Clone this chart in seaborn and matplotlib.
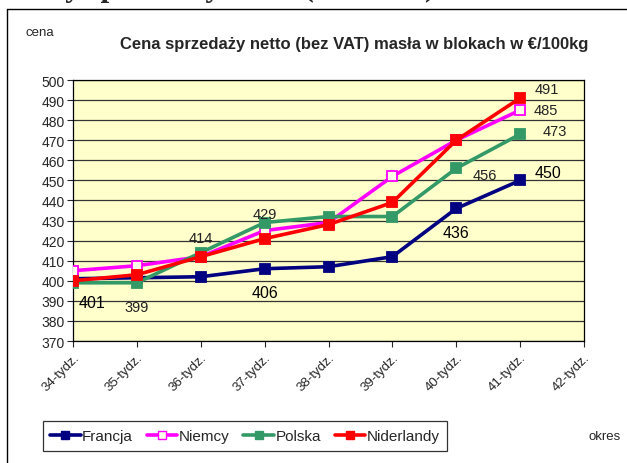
import numpy as np
import pandas as pd
import matplotlib
matplotlib.use("Agg")
import matplotlib.pyplot as plt
from matplotlib.lines import Line2D
import seaborn as sns

# data
weeks = ["34-tydz.", "35-tydz.", "36-tydz.", "37-tydz.", "38-tydz.",
         "39-tydz.", "40-tydz.", "41-tydz.", "42-tydz."]
francja = [401, 401.5, 402, 406, 407, 412, 436, 450]
niemcy = [405, 407.5, 412, 425, 429, 452, 470, 485]
polska = [399, 399, 414, 429, 432, 432, 456, 473]
niderlandy = [400, 403, 412, 421, 428, 439, 470, 491]

series = {"Francja": francja, "Niemcy": niemcy, "Polska": polska, "Niderlandy": niderlandy}
colors = {"Francja": "#000080", "Niemcy": "#FF00FF", "Polska": "#339966", "Niderlandy": "#FF0000"}

rows = []
for name, vals in series.items():
    for i, v in enumerate(vals):
        rows.append({"week": i, "cena": v, "kraj": name})
df = pd.DataFrame(rows)

sns.set_style("white")
plt.rcParams["font.family"] = ["Liberation Sans", "DejaVu Sans"]

fig = plt.figure(figsize=(6.27, 4.64), dpi=100)
ax = fig.add_axes([73 / 627, 1 - 342 / 464, (584 - 73) / 627, (342 - 81) / 464])
ax.set_facecolor("#FFFFCC")

for name in series:
    sub = df[df["kraj"] == name]
    face = "#FFFFE8" if name == "Niemcy" else colors[name]
    sns.lineplot(data=sub, x="week", y="cena", ax=ax, color=colors[name],
                 lw=2.6, marker="s", markersize=7, markerfacecolor=face,
                 markeredgecolor=colors[name], markeredgewidth=1.3, zorder=3)

ax.set_xlim(0, 8)
ax.set_ylim(370, 500)
ax.set_yticks(np.arange(370, 501, 10))
ax.set_xticks(range(len(weeks)))
ax.set_xticklabels(weeks, rotation=45, ha="right", rotation_mode="anchor", fontsize=9.5)
ax.tick_params(axis="y", labelsize=10, length=4, direction="out", left=True, pad=2)
ax.tick_params(axis="x", length=4, direction="out", bottom=True, pad=3)
ax.grid(axis="y", color="#333333", lw=0.9)
ax.set_axisbelow(True)
for s in ax.spines.values():
    s.set_color("black")
    s.set_linewidth(0.9)
ax.set_xlabel("")
ax.set_ylabel("")

# data labels: (series, index, dx px, dy px, size, color)
labels = [
    ("Francja", 0, 19, -24, 11.5, "black"),
    ("Francja", 3, 0, -24, 11.5, "black"),
    ("Francja", 6, 0, -24, 11.5, "black"),
    ("Francja", 7, 28, 8, 11.5, "black"),
    ("Polska", 1, 0, -24, 10.5, "#222222"),
    ("Polska", 2, 0, 15, 10.5, "#222222"),
    ("Polska", 3, 0, 9, 10.5, "#222222"),
    ("Polska", 6, 29, -7, 10.5, "#222222"),
    ("Polska", 7, 35, 3, 10.5, "#222222"),
    ("Niemcy", 7, 26, 0, 10.5, "#222222"),
    ("Niderlandy", 7, 27, 9, 10.5, "#222222"),
]
for name, i, dx, dy, fs, c in labels:
    v = series[name][i]
    ax.annotate(f"{v:.0f}", (i, v), xytext=(dx, dy), textcoords="offset pixels",
                ha="center", va="center", fontsize=fs, color=c)

fig.text(354 / 627, 1 - 45 / 464, "Cena sprzedaży netto (bez VAT) masła w blokach w €/100kg",
         ha="center", va="center", fontsize=12, fontweight="bold")
fig.text(40 / 627, 1 - 33 / 464, "cena", ha="center", va="center", fontsize=9.5)
fig.text(605 / 627, 1 - 437 / 464, "okres", ha="center", va="center", fontsize=9.5)

# cut-off heading above the chart frame
fig.text(12 / 627, 1 + 4 / 464, "Ceny sprzedaży netto (bez VAT) masła w blokach",
         ha="left", va="baseline", fontsize=22.3, fontweight="bold",
         family=["Liberation Serif", "DejaVu Serif"])

# chart frame
fig.add_artist(Line2D([7 / 627, 7 / 627], [0, 1 - 10 / 464], color="black", lw=1))
fig.add_artist(Line2D([7 / 627, 1], [1 - 10 / 464, 1 - 10 / 464], color="black", lw=1))

handles = [Line2D([], [], color=colors[n], lw=2.6, marker="s", markersize=6,
                  markerfacecolor=("#FFFFE8" if n == "Niemcy" else colors[n]),
                  markeredgecolor=colors[n]) for n in series]
leg = fig.legend(handles, list(series), loc="center",
                 bbox_to_anchor=(245 / 627, 1 - 437 / 464), ncol=4, frameon=True,
                 fancybox=False, edgecolor="black", fontsize=11, handlelength=2,
                 handletextpad=0.1, columnspacing=0.9, borderpad=0.5)
leg.get_frame().set_linewidth(0.9)

fig.savefig("out.png", dpi=100)
